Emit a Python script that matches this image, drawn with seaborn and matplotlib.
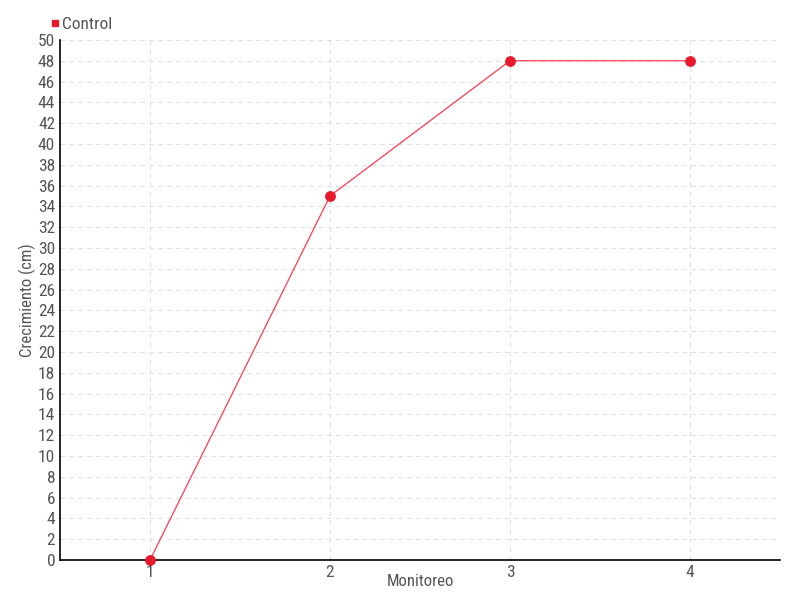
import matplotlib
matplotlib.use('Agg')
import matplotlib.pyplot as plt
from matplotlib.lines import Line2D
import pandas as pd
import seaborn as sns

# data
monitoreo = [1, 2, 3, 4]
crecimiento = [0, 35, 48, 48]
serie = 'Control'

line_color = '#ff3b4e'
dot_color = '#e8192c'
text_color = '#555555'

df = pd.DataFrame({'Monitoreo': monitoreo, 'Crecimiento (cm)': crecimiento})

sns.set_style('white')
plt.rcParams['font.family'] = ['Roboto Condensed', 'Liberation Sans Narrow', 'DejaVu Sans']

fig = plt.figure(figsize=(8, 6), dpi=100)
ax = fig.add_axes([0.075, 0.0667, 0.9, 0.8667])

sns.lineplot(data=df, x='Monitoreo', y='Crecimiento (cm)', ax=ax,
             color=line_color, linewidth=0.9, marker='o', markersize=7,
             markerfacecolor=dot_color, markeredgecolor=dot_color, zorder=3,
             clip_on=False)

ax.set_xlim(0.5, 4.5)
ax.set_ylim(0, 50)
ax.set_xticks(monitoreo)
ax.set_yticks(range(0, 51, 2))
ax.grid(True, color='#e0e0e0', linestyle=(0, (4, 4)), linewidth=0.8)

for s in ['top', 'right']:
    ax.spines[s].set_visible(False)
for s in ['left', 'bottom']:
    ax.spines[s].set_color('black')
    ax.spines[s].set_linewidth(1.2)

ax.tick_params(axis='both', direction='inout', length=6, width=1, colors='black',
               labelcolor=text_color, labelsize=12.5, pad=0.5)

ax.set_xlabel('Monitoreo', color=text_color, fontsize=12)
ax.set_ylabel('Crecimiento (cm)', color=text_color, fontsize=12)
ax.xaxis.set_label_coords(0.5, -0.026)
ax.yaxis.set_label_coords(-0.034, 0.5)

handle = Line2D([], [], linestyle='none', marker='s', markersize=5,
                markerfacecolor=dot_color, markeredgecolor=dot_color)
fig.legend([handle], [serie], loc='upper left', bbox_to_anchor=(0.052, 0.984),
           frameon=False, handletextpad=0.0, handlelength=0.8,
           prop={'size': 12.5}, labelcolor=text_color, borderaxespad=0)

fig.savefig('out.png', dpi=100)
